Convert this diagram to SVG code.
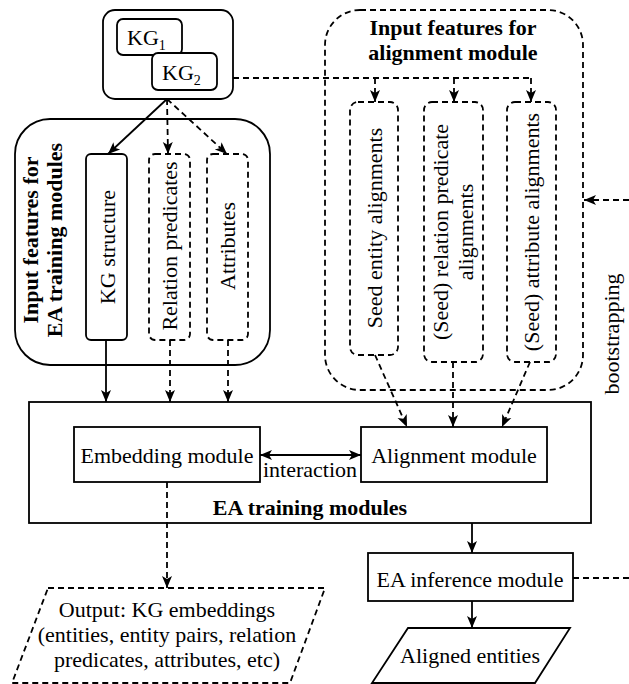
<svg xmlns="http://www.w3.org/2000/svg" width="629" height="684" viewBox="0 0 629 684" font-family="'Liberation Serif', 'Times New Roman', 'DejaVu Serif', serif">
<style>
text{font-family:'Liberation Serif','Times New Roman','DejaVu Serif',serif;font-size:22px;fill:#000}
.b{font-weight:bold}
.m{text-anchor:middle}
.s{fill:#fff;stroke:#000;stroke-width:1.8}
.d{fill:none;stroke:#000;stroke-width:1.8;stroke-dasharray:6,4}
.n{fill:none;stroke:#000;stroke-width:1.8}
.l{fill:none;stroke:#000;stroke-width:1.8}
.ld{fill:none;stroke:#000;stroke-width:1.8;stroke-dasharray:6,4}
.a{marker-end:url(#ah)}
</style>
<defs>
<marker id="ah" markerUnits="userSpaceOnUse" markerWidth="13" markerHeight="12" refX="12" refY="5" orient="auto-start-reverse" viewBox="0 0 13 10">
<path d="M0,0 L12,5 L0,10 L3,5 Z" fill="#000"/>
</marker>
</defs>

<g id="kg-input">
<rect class="s" x="103" y="10" width="130" height="89" rx="12"/>
<rect class="s" x="117" y="19" width="65" height="36" rx="6"/>
<text x="127" y="45">KG<tspan font-size="14" dy="5">1</tspan></text>
<rect class="s" x="152" y="53" width="65" height="37" rx="6"/>
<text x="162" y="80">KG<tspan font-size="14" dy="5">2</tspan></text>
</g>

<g id="ea-input-features">
<rect class="n" x="15" y="119" width="255" height="246" rx="35"/>
<text class="b m" transform="translate(38,240) rotate(-90)">Input features for</text>
<text class="b m" transform="translate(62,240) rotate(-90)">EA training modules</text>
</g>
<g id="kg-structure">
<rect class="s" x="86" y="154" width="41" height="186" rx="5"/>
<text class="m" transform="translate(115,247) rotate(-90)">KG structure</text>
</g>
<g id="relation-predicates">
<rect class="d" x="149" y="154" width="41" height="186" rx="6"/>
<text class="m" transform="translate(177,246) rotate(-90)">Relation predicates</text>
</g>
<g id="attributes">
<rect class="d" x="207" y="154" width="41" height="186" rx="6"/>
<text class="m" transform="translate(235,246) rotate(-90)">Attributes</text>
</g>

<g id="alignment-input-features">
<rect class="d" x="325" y="10" width="258" height="380" rx="35"/>
<text class="b m" x="453" y="35">Input features for</text>
<text class="b m" x="453" y="60">alignment module</text>
</g>
<g id="seed-entity">
<rect class="d" x="350" y="102" width="48" height="253" rx="8"/>
<text class="m" transform="translate(382,228) rotate(-90)">Seed entity alignments</text>
</g>
<g id="seed-relation">
<rect class="d" x="424" y="102" width="59" height="260" rx="8"/>
<text class="m" transform="translate(448,232) rotate(-90)">(Seed) relation predicate</text>
<text class="m" transform="translate(473,232) rotate(-90)">alignments</text>
</g>
<g id="seed-attribute">
<rect class="d" x="507" y="102" width="49" height="260" rx="8"/>
<text class="m" transform="translate(539,232) rotate(-90)">(Seed) attribute alignments</text>
</g>

<g id="ea-training">
<rect class="s" x="29" y="402" width="562" height="121"/>
<text class="b m" x="310" y="515">EA training modules</text>
</g>
<g id="embedding-module">
<rect class="s" x="74" y="427" width="186" height="55"/>
<text class="m" x="167" y="463">Embedding module</text>
</g>
<g id="alignment-module">
<rect class="s" x="361" y="427" width="186" height="55"/>
<text class="m" x="454" y="463">Alignment module</text>
</g>

<g id="ea-inference">
<rect class="s" x="368" y="553" width="205" height="48"/>
<text class="m" x="470" y="587">EA inference module</text>
</g>
<g id="aligned-entities">
<polygon class="s" points="408,628 570,628 535,683 372,683"/>
<text class="m" x="470" y="663">Aligned entities</text>
</g>
<g id="output-embeddings">
<polygon class="d" points="48,588 325,588 290,683 12,683"/>
<text class="m" x="167" y="617">Output: KG embeddings</text>
<text class="m" x="167" y="642">(entities, entity pairs, relation</text>
<text class="m" x="167" y="667">predicates, attributes, etc)</text>
</g>
<g id="bootstrapping-label">
<text class="m" transform="translate(619,334) rotate(-90)">bootstrapping</text>
</g>

<g id="connectors">
<line class="l a" x1="167" y1="99" x2="108" y2="154"/>
<line class="ld a" x1="167" y1="99" x2="168" y2="154"/>
<line class="ld a" x1="167" y1="99" x2="227" y2="154"/>
<polyline class="ld" points="233,78 532,78"/>
<line class="ld a" x1="375" y1="78" x2="375" y2="102"/>
<line class="ld a" x1="454" y1="78" x2="454" y2="102"/>
<line class="ld a" x1="531" y1="78" x2="531" y2="102"/>
<line class="l a" x1="106" y1="340" x2="106" y2="402"/>
<line class="ld a" x1="170" y1="340" x2="170" y2="402"/>
<line class="ld a" x1="228" y1="340" x2="228" y2="402"/>
<line class="ld a" x1="375" y1="355" x2="407" y2="427"/>
<line class="ld a" x1="453" y1="362" x2="453" y2="427"/>
<line class="ld a" x1="530" y1="362" x2="502" y2="427"/>
<line class="l a" x1="260" y1="455" x2="361" y2="455" style="marker-start:url(#ah)"/>
<text class="m" x="310" y="477">interaction</text>
<line class="ld a" x1="167" y1="482" x2="167" y2="588"/>
<line class="l a" x1="472" y1="523" x2="472" y2="553"/>
<line class="l a" x1="472" y1="601" x2="472" y2="628"/>
<line class="ld" x1="573" y1="578" x2="629" y2="578"/>
<line class="ld a" x1="629" y1="200" x2="584" y2="200"/>
</g>
</svg>
